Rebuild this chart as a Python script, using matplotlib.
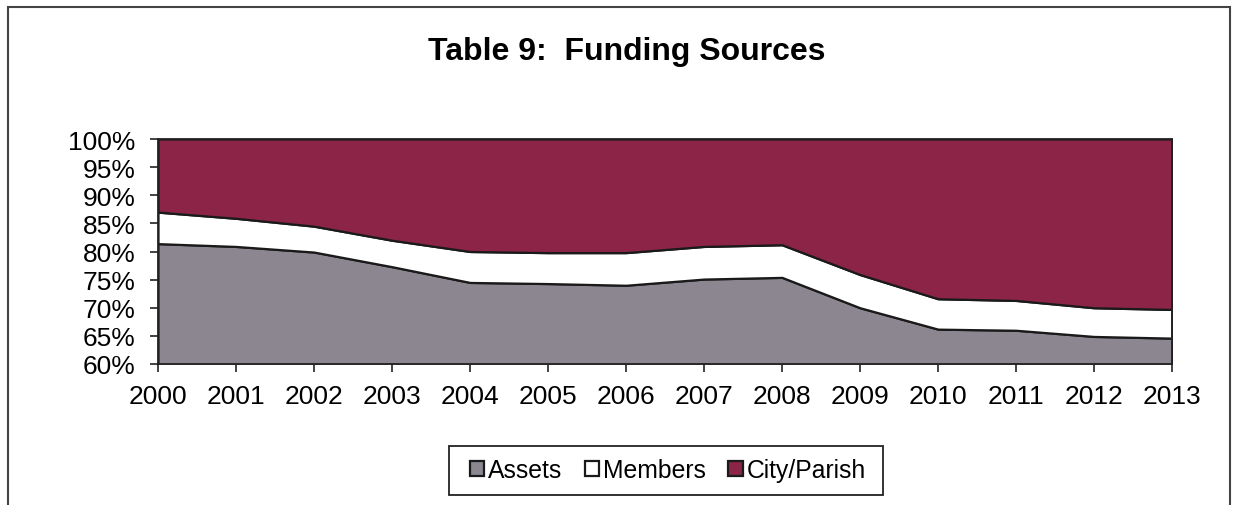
import matplotlib
matplotlib.use("Agg")
import matplotlib.pyplot as plt
from matplotlib.patches import Rectangle
from matplotlib.ticker import FuncFormatter, MultipleLocator

years = [2000, 2001, 2002, 2003, 2004, 2005, 2006, 2007, 2008, 2009, 2010, 2011, 2012, 2013]
assets = [81.4, 80.9, 79.9, 77.3, 74.5, 74.3, 74.0, 75.1, 75.4, 70.0, 66.2, 66.0, 64.9, 64.6]
members = [5.6, 5.0, 4.6, 4.7, 5.5, 5.5, 5.8, 5.8, 5.8, 5.9, 5.4, 5.3, 5.1, 5.1]
city = [100 - a - m for a, m in zip(assets, members)]
labels = ["Assets", "Members", "City/Parish"]
colors = ["#8b8690", "#ffffff", "#8b2447"]

plt.rcParams['font.family'] = ['Liberation Sans', 'DejaVu Sans']

fig = plt.figure(figsize=(12.38, 5.06), dpi=100)
ax = fig.add_axes([158/1238, 1 - 365/506, (1172-158)/1238, (365-140)/506])

ax.stackplot(years, assets, members, city, colors=colors, labels=labels,
             edgecolor="#1a1a1a", linewidth=1.6)
ax.set_xlim(years[0], years[-1])
ax.set_ylim(60, 100)
ax.yaxis.set_major_locator(MultipleLocator(5))
ax.yaxis.set_major_formatter(FuncFormatter(lambda v, p: f"{v:.0f}%"))
ax.set_xticks(years)
ax.set_xticklabels([str(y) for y in years])
ax.tick_params(axis='both', direction='out', length=6, width=1.2, labelsize=19, color='#222222')
ax.tick_params(axis='x', pad=8.5)
ax.tick_params(axis='y', pad=10)
for s in ax.spines.values():
    s.set_linewidth(1.3)
    s.set_color('#222222')

fig.text(627/1238, 1 - 52/506, "Table 9:  Funding Sources", ha='center', va='center',
         fontsize=23, fontweight='bold')

leg = ax.legend(loc='center', bbox_to_anchor=(668/1238, 1 - 471.5/506), bbox_transform=fig.transFigure,
                ncol=3, fontsize=17.8, frameon=False,
                handlelength=0.58, handleheight=0.55, handletextpad=0.17, columnspacing=0.9,
                borderpad=0.4)

# legend box
fig.patches.append(Rectangle((449/1238, 1 - 496/506), (883-449)/1238, (496-447)/506,
                             transform=fig.transFigure, fill=False, edgecolor='#222222',
                             linewidth=1.3, zorder=5))

# outer chart border
fig.patches.append(Rectangle((8/1238, -0.05), (1230-8)/1238, 1.05 - 8/506, transform=fig.transFigure,
                             fill=False, edgecolor='#444444', linewidth=1.5))

fig.savefig("out.png", dpi=100)
